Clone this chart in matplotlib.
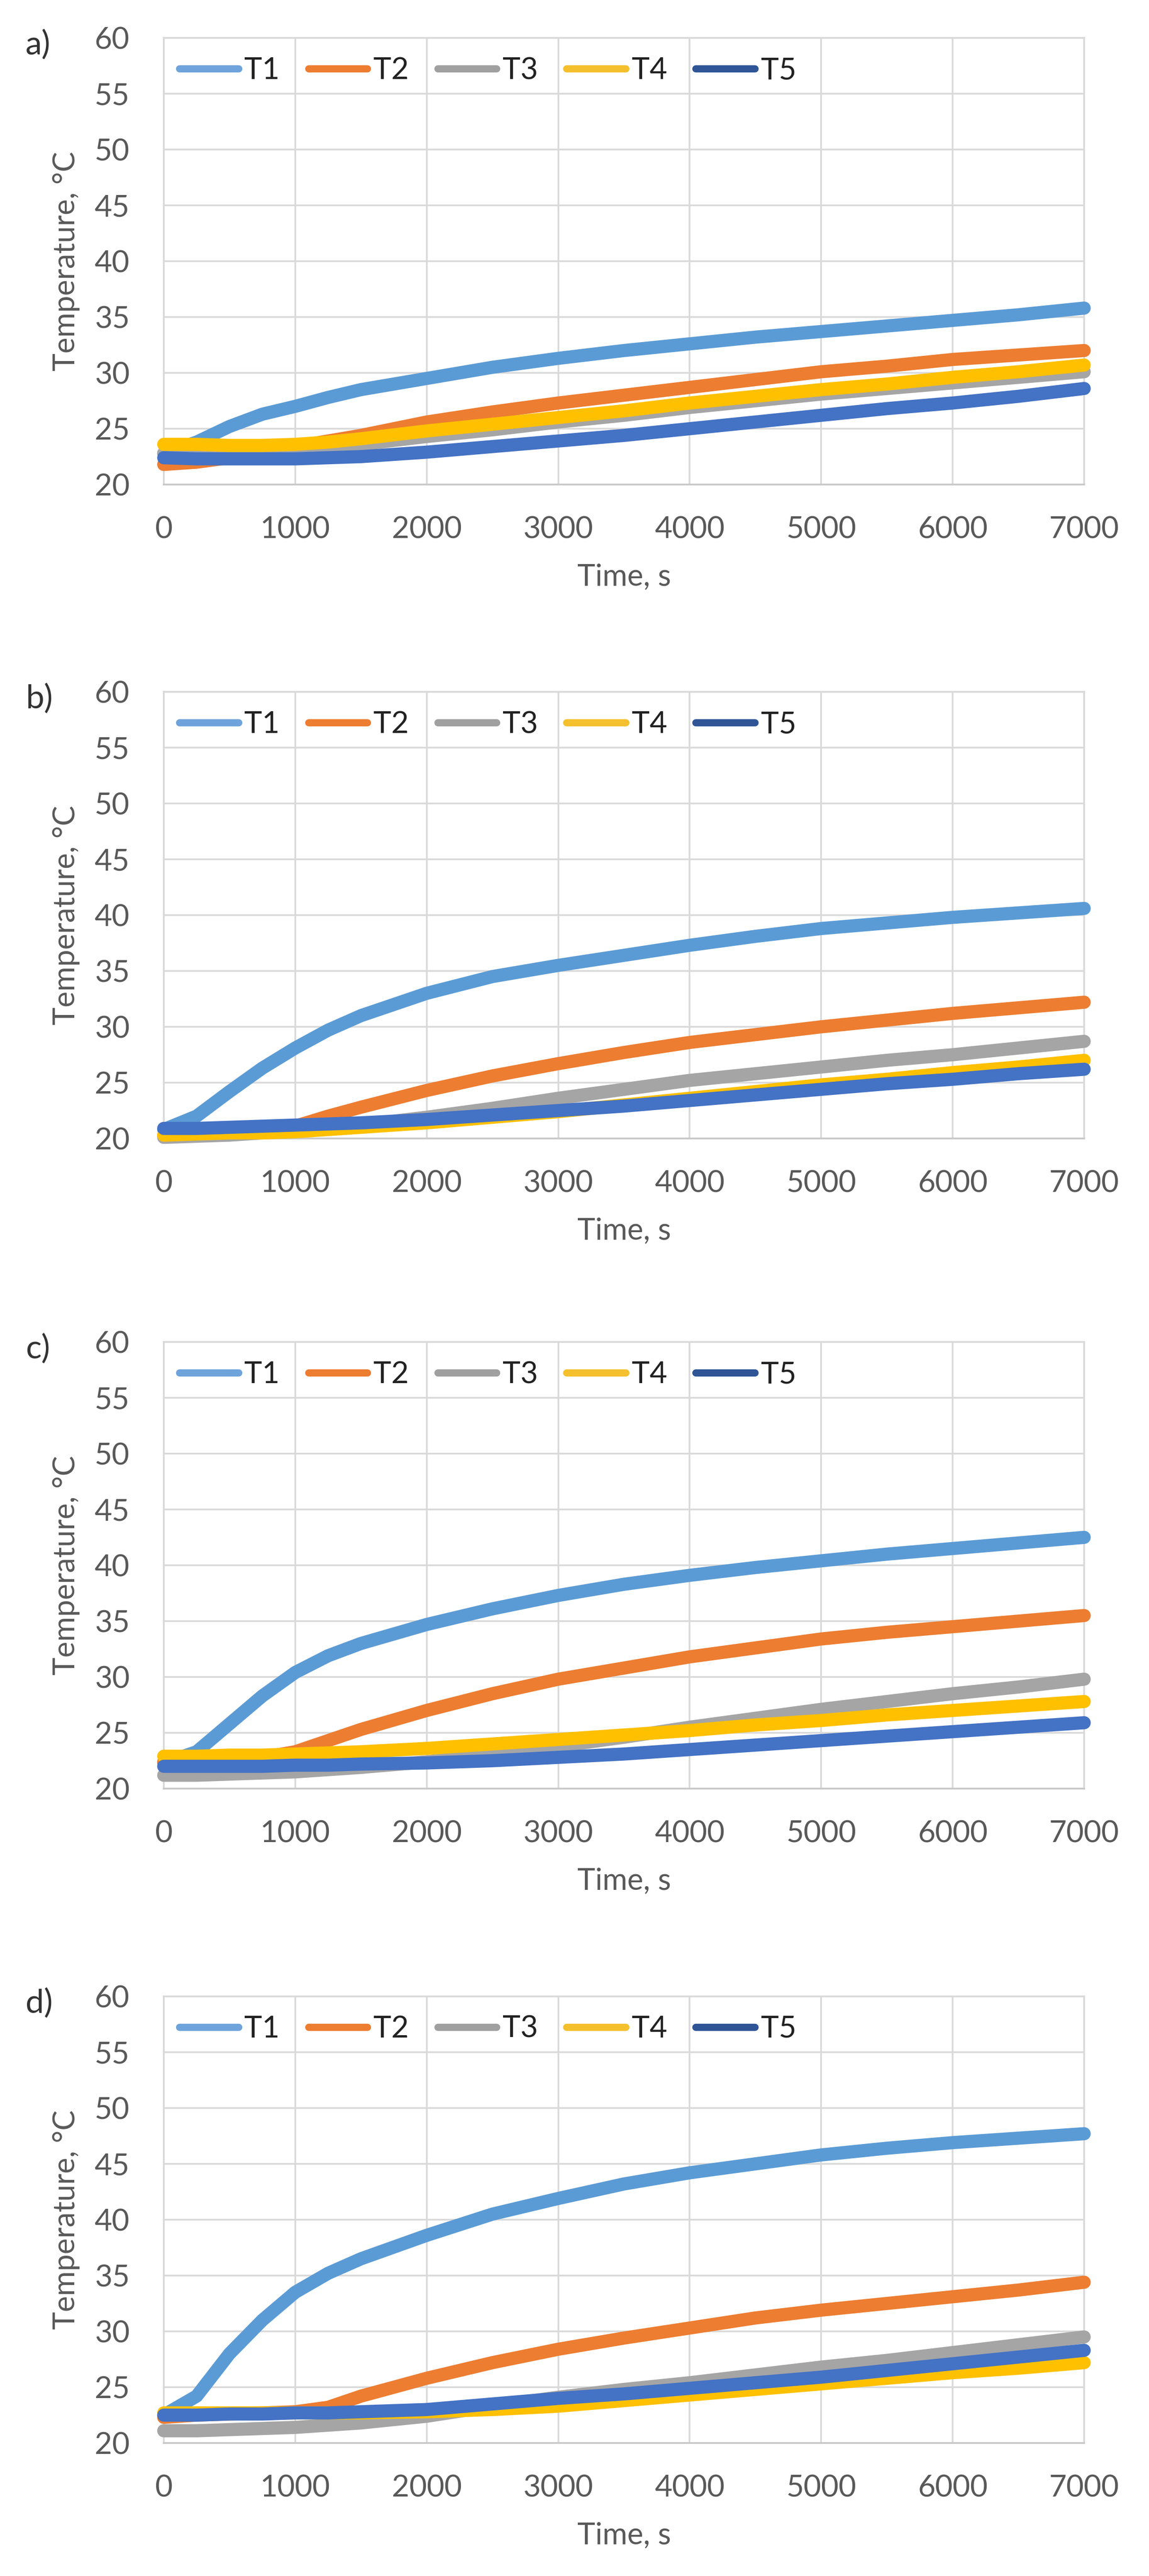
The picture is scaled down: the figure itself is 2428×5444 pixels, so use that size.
import matplotlib
matplotlib.use("Agg")
import matplotlib.pyplot as plt
from matplotlib.lines import Line2D

# Time axis shared by all four runs (s)
time_s = [0, 250, 500, 750, 1000, 1250, 1500, 2000, 2500, 3000, 3500,
          4000, 4500, 5000, 5500, 6000, 6500, 7000]

# a)
a_T1 = [22.8, 23.8, 25.2, 26.3, 27.0, 27.8, 28.5, 29.5, 30.5, 31.3, 32.0,
        32.6, 33.2, 33.7, 34.2, 34.7, 35.2, 35.8]
a_T2 = [21.8, 22.0, 22.4, 22.9, 23.4, 23.9, 24.4, 25.6, 26.5, 27.3, 28.0,
        28.7, 29.4, 30.1, 30.6, 31.2, 31.6, 32.0]
a_T3 = [22.8, 22.8, 22.9, 23.0, 23.1, 23.3, 23.6, 24.3, 24.9, 25.6, 26.2,
        26.9, 27.5, 28.1, 28.6, 29.1, 29.6, 30.1]
a_T4 = [23.6, 23.6, 23.5, 23.5, 23.6, 23.8, 24.1, 24.8, 25.4, 26.0, 26.6,
        27.3, 27.9, 28.5, 29.0, 29.6, 30.1, 30.7]
a_T5 = [22.4, 22.3, 22.3, 22.3, 22.3, 22.4, 22.5, 22.9, 23.4, 23.9, 24.4,
        25.0, 25.6, 26.2, 26.8, 27.3, 27.9, 28.6]

# b)
b_T1 = [20.8, 22.0, 24.2, 26.3, 28.1, 29.7, 31.0, 33.0, 34.5, 35.5, 36.4,
        37.3, 38.1, 38.8, 39.3, 39.8, 40.2, 40.6]
b_T2 = [20.3, 20.4, 20.6, 20.8, 21.1, 22.0, 22.8, 24.3, 25.6, 26.7, 27.7,
        28.6, 29.3, 30.0, 30.6, 31.2, 31.7, 32.2]
b_T3 = [20.1, 20.2, 20.3, 20.5, 20.7, 20.9, 21.2, 21.9, 22.7, 23.6, 24.4,
        25.2, 25.8, 26.4, 27.0, 27.5, 28.1, 28.7]
b_T4 = [20.3, 20.4, 20.5, 20.5, 20.6, 20.8, 21.0, 21.4, 21.9, 22.4, 23.0,
        23.6, 24.2, 24.8, 25.3, 25.9, 26.4, 27.0]
b_T5 = [20.9, 20.9, 21.0, 21.1, 21.2, 21.3, 21.4, 21.7, 22.1, 22.5, 22.9,
        23.4, 23.9, 24.4, 24.9, 25.3, 25.8, 26.2]

# c)
c_T1 = [22.3, 23.3, 25.8, 28.3, 30.4, 31.9, 33.0, 34.7, 36.1, 37.3, 38.3,
        39.1, 39.8, 40.4, 41.0, 41.5, 42.0, 42.5]
c_T2 = [22.4, 22.4, 22.5, 22.8, 23.3, 24.3, 25.3, 27.0, 28.5, 29.8, 30.8,
        31.8, 32.6, 33.4, 34.0, 34.5, 35.0, 35.5]
c_T3 = [21.2, 21.2, 21.3, 21.4, 21.5, 21.7, 21.9, 22.4, 23.0, 23.8, 24.6,
        25.5, 26.3, 27.1, 27.8, 28.5, 29.1, 29.8]
c_T4 = [22.9, 22.9, 23.0, 23.0, 23.1, 23.2, 23.3, 23.6, 24.0, 24.4, 24.8,
        25.2, 25.7, 26.1, 26.6, 27.0, 27.4, 27.8]
c_T5 = [22.0, 22.0, 22.0, 22.0, 22.1, 22.1, 22.2, 22.3, 22.5, 22.8, 23.1,
        23.5, 23.9, 24.3, 24.7, 25.1, 25.5, 25.9]

# d)
d_T1 = [22.5, 24.2, 28.0, 31.0, 33.5, 35.2, 36.5, 38.6, 40.5, 41.9, 43.2,
        44.2, 45.0, 45.8, 46.4, 46.9, 47.3, 47.7]
d_T2 = [22.3, 22.5, 22.6, 22.7, 22.8, 23.2, 24.2, 25.8, 27.2, 28.4, 29.4,
        30.3, 31.2, 31.9, 32.5, 33.1, 33.7, 34.4]
d_T3 = [21.1, 21.1, 21.2, 21.3, 21.4, 21.6, 21.8, 22.4, 23.3, 24.1, 24.8,
        25.4, 26.1, 26.8, 27.4, 28.1, 28.8, 29.5]
d_T4 = [22.7, 22.7, 22.7, 22.7, 22.7, 22.7, 22.7, 22.8, 23.0, 23.3, 23.8,
        24.3, 24.8, 25.3, 25.8, 26.3, 26.7, 27.2]
d_T5 = [22.5, 22.5, 22.6, 22.6, 22.7, 22.7, 22.8, 23.0, 23.5, 24.0, 24.4,
        24.9, 25.4, 25.9, 26.5, 27.1, 27.7, 28.3]

series_names = ["T1", "T2", "T3", "T4", "T5"]
panel_labels = ["a)", "b)", "c)", "d)"]
panels = [
    [a_T1, a_T2, a_T3, a_T4, a_T5],
    [b_T1, b_T2, b_T3, b_T4, b_T5],
    [c_T1, c_T2, c_T3, c_T4, c_T5],
    [d_T1, d_T2, d_T3, d_T4, d_T5],
]
x_ticks = [0, 1000, 2000, 3000, 4000, 5000, 6000, 7000]
y_ticks = [20, 25, 30, 35, 40, 45, 50, 55, 60]

colors = ["#5B9BD5", "#ED7D31", "#A5A5A5", "#FFC000", "#4472C4"]
legend_colors = ["#6FA3DB", "#ED7D31", "#A0A0A0", "#F5C02E", "#2F5597"]
grid_col = "#D9D9D9"
text_col = "#595959"

plt.rcParams["font.family"] = ["Lato", "DejaVu Sans"]

W, H = 2428, 5444
fig = plt.figure(figsize=(W / 100, H / 100), dpi=100)
fig.patch.set_facecolor("white")

# pixel positions of the plot areas (left, right, top, bottom)
left_px, right_px = 346, 2291
tops_px = [80, 1462, 2836, 4219]
plot_h = 944

for k in range(4):
    top = tops_px[k]
    ax = fig.add_axes([left_px / W, 1 - (top + plot_h) / H,
                       (right_px - left_px) / W, plot_h / H])
    for name, vals, col in zip(series_names, panels[k], colors):
        ax.plot(time_s, vals, color=col, lw=20, solid_capstyle="round",
                solid_joinstyle="round", clip_on=False, zorder=3)
    ax.set_xlim(0, 7000)
    ax.set_ylim(20, 60)
    ax.set_xticks(x_ticks)
    ax.set_yticks(y_ticks)
    ax.grid(True, color=grid_col, lw=2.6, zorder=0)
    ax.set_axisbelow(True)
    for sp in ax.spines.values():
        sp.set_color(grid_col)
        sp.set_linewidth(2.6)
    ax.spines["bottom"].set_color("#C8C8C8")
    ax.tick_params(length=0, labelsize=46, colors=text_col)
    ax.tick_params(axis="y", pad=52)
    ax.tick_params(axis="x", pad=48)
    ax.set_xlabel("Time, s", fontsize=46, color=text_col, labelpad=30)
    ax.set_ylabel("Temperature, °C", fontsize=46, color=text_col, labelpad=22)

    handles = [Line2D([], [], color=c, lw=11, solid_capstyle="round")
               for c in legend_colors]
    ax.legend(handles, series_names, ncol=5, loc="center left",
              bbox_to_anchor=(0.017, 1 - 69 / plot_h), frameon=False,
              fontsize=46, handlelength=1.95, handletextpad=0.2,
              columnspacing=0.95, borderpad=0, borderaxespad=0,
              labelcolor="#222222")

    fig.text(54 / W, 1 - (top + 14) / H, panel_labels[k], fontsize=50,
             color="#333333", ha="left", va="center")

fig.savefig("out.png", dpi=100, facecolor="white")
